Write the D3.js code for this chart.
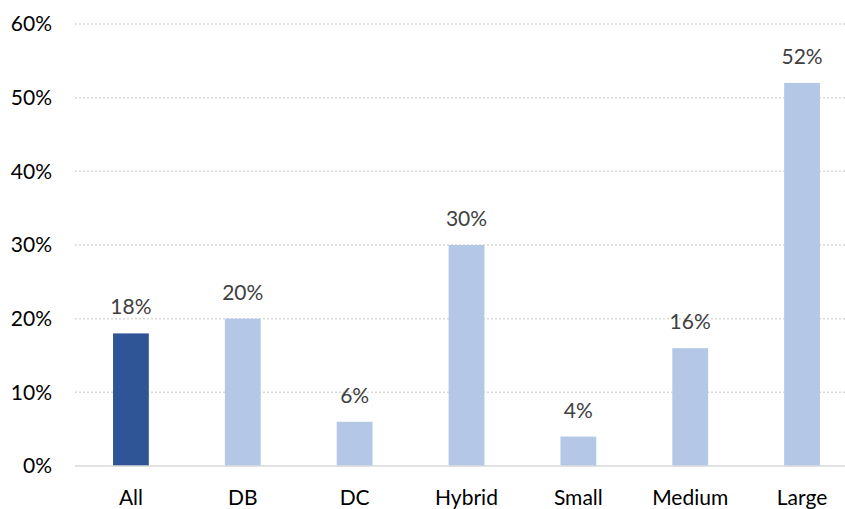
<!DOCTYPE html>
<html>
<head>
<meta charset="utf-8">
<script src="https://cdn.jsdelivr.net/npm/d3@7"></script>
<style>
  body { margin: 0; background: #fff; }
  svg { display: block; font-family: Lato, "Open Sans", sans-serif; }
</style>
</head>
<body>
<svg id="chart" width="845" height="509"></svg>
<script>
// categorias e valores (%)
var categories = ["All", "DB", "DC", "Hybrid", "Small", "Medium", "Large"];
var values = [18, 20, 6, 30, 4, 16, 52];
var yTicks = [0, 10, 20, 30, 40, 50, 60];

var svg = d3.select("#chart");

// a área do gráfico passa um pouco da borda direita, como no original
var x = d3.scaleBand()
  .domain(categories)
  .range([75, 858])
  .paddingInner(0.68)
  .paddingOuter(0.34);

var y = d3.scaleLinear()
  .domain([0, 60])
  .range([466, 24]);

// linhas de grade pontilhadas
svg.selectAll("line.grid")
  .data(yTicks.slice(1))
  .enter().append("line")
    .attr("class", "grid")
    .attr("x1", 75)
    .attr("x2", 858)
    .attr("y1", function(d) { return y(d); })
    .attr("y2", function(d) { return y(d); })
    .style("stroke", "#d9d9d9")
    .style("stroke-width", 1.5)
    .style("stroke-dasharray", "2,2");

// rótulos do eixo y
svg.selectAll("text.ytick")
  .data(yTicks)
  .enter().append("text")
    .attr("class", "ytick")
    .attr("x", 52)
    .attr("y", function(d) { return y(d); })
    .attr("dy", "0.35em")
    .attr("text-anchor", "end")
    .style("font-size", "21px")
    .style("fill", "#000")
    .text(function(d) { return d + "%"; });

// barras
svg.selectAll("rect.bar")
  .data(values)
  .enter().append("rect")
    .attr("class", "bar")
    .attr("x", function(d, i) { return x(categories[i]); })
    .attr("width", x.bandwidth())
    .attr("y", function(d) { return y(d); })
    .attr("height", function(d) { return y(0) - y(d); })
    .style("fill", function(d, i) { return i === 0 ? "#2f5597" : "#b4c7e7"; });

// eixo x
svg.append("line")
  .attr("x1", 75)
  .attr("x2", 858)
  .attr("y1", y(0))
  .attr("y2", y(0))
  .style("stroke", "#d9d9d9")
  .style("stroke-width", 1.5);

// valores acima das barras
svg.selectAll("text.val")
  .data(values)
  .enter().append("text")
    .attr("class", "val")
    .attr("x", function(d, i) { return x(categories[i]) + x.bandwidth() / 2; })
    .attr("y", function(d) { return y(d) - 19; })
    .attr("text-anchor", "middle")
    .style("font-size", "21px")
    .style("fill", "#404040")
    .text(function(d) { return d + "%"; });

// nomes das categorias
svg.selectAll("text.cat")
  .data(categories)
  .enter().append("text")
    .attr("class", "cat")
    .attr("x", function(d) { return x(d) + x.bandwidth() / 2; })
    .attr("y", 505)
    .attr("text-anchor", "middle")
    .style("font-size", "21px")
    .style("fill", "#000")
    .text(function(d) { return d; });
</script>
</body>
</html>
